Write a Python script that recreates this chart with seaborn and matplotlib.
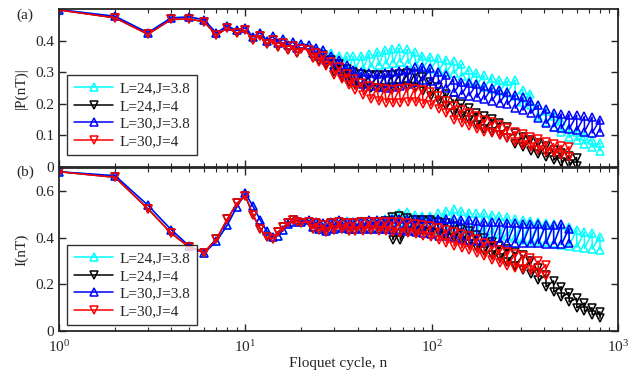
import matplotlib
matplotlib.use('Agg')
import matplotlib.pyplot as plt
import seaborn as sns

# n = 1..20 are single cycles; past that each node n gives the pair (n, n+1),
# the top and the bottom of the even/odd zigzag band
NODES = [22, 24, 26, 29, 32, 35, 38, 42, 46, 51, 56, 61, 67, 74, 81, 89, 98, 108,
         119, 131, 144, 158, 174, 191, 210, 231, 254, 280, 308, 339, 373, 410, 451,
         496, 546, 600, 660, 726, 800]

LABELS = ['L=24,J=3.8', 'L=24,J=4', 'L=30,J=3.8', 'L=30,J=4']
COLORS = ['#00ffff', 'black', '#0000ff', '#ff0000']
MARKERS = ['^', 'v', '^', 'v']

# ---- panel (a): |P(nT)| ----
p_early_38 = [0.498, 0.477, 0.425, 0.472, 0.475, 0.466, 0.424, 0.447, 0.432, 0.440,
              0.412, 0.425, 0.400, 0.413, 0.392, 0.405, 0.385, 0.396, 0.377, 0.390]
p_early_4 = [0.497, 0.472, 0.420, 0.467, 0.468, 0.460, 0.417, 0.440, 0.424, 0.432,
             0.403, 0.415, 0.390, 0.402, 0.380, 0.392, 0.370, 0.382, 0.362, 0.375]

p_hi_24_38 = [.385, .378, .370, .360, .352, .350, .350, .352, .358, .364, .370, .374, .376,
              .372, .364, .352, .348, .345, .340, .334, .325, .308, .298, .290, .283, .276,
              .272, .275, .245, .232, .196, .178, .162, .145, .125, .112, .098, .086, .075]
p_lo_24_38 = [.360, .350, .342, .325, .318, .312, .310, .310, .316, .322, .326, .330, .331,
              .328, .322, .314, .310, .305, .300, .296, .288, .272, .262, .252, .246, .240,
              .235, .225, .205, .195, .160, .142, .128, .110, .094, .084, .074, .063, .052]
p_hi_24_4 = [.370, .362, .355, .340, .325, .310, .300, .293, .290, .290, .290, .292, .295,
             .296, .294, .285, .268, .252, .232, .212, .200, .188, .172, .160, .152, .140,
             .128, .108, .096, .086, .075, .065, .055, .045, .036, .030]
p_lo_24_4 = [.345, .335, .325, .302, .285, .270, .260, .253, .250, .250, .250, .252, .254,
             .256, .254, .242, .226, .210, .192, .170, .160, .148, .132, .120, .112, .102,
             .092, .074, .064, .052, .040, .032, .022, .015, .008, .004]
p_hi_30_38 = [.385, .378, .370, .352, .338, .322, .308, .300, .296, .295, .296, .300, .303,
              .308, .315, .318, .312, .302, .290, .276, .270, .266, .262, .256, .250, .244,
              .238, .228, .220, .210, .195, .182, .170, .168, .166, .164, .160, .158, .150]
p_lo_30_38 = [.360, .350, .340, .318, .302, .286, .272, .262, .256, .252, .250, .252, .257,
              .263, .270, .275, .272, .262, .250, .236, .230, .226, .220, .214, .210, .204,
              .198, .186, .180, .170, .155, .138, .128, .122, .120, .116, .112, .108, .110]
p_hi_30_4 = [.370, .360, .352, .332, .315, .295, .280, .265, .255, .250, .247, .245, .248,
             .250, .248, .243, .236, .225, .210, .192, .180, .170, .160, .150, .142, .134,
             .125, .112, .105, .096, .088, .080, .074, .068, .064]
p_lo_30_4 = [.345, .333, .320, .292, .278, .260, .245, .228, .215, .208, .204, .202, .204,
             .206, .205, .200, .195, .185, .170, .150, .140, .130, .120, .112, .108, .100,
             .092, .078, .070, .062, .055, .048, .043, .038, .032]

# ---- panel (b): I(nT) ----
i_early_38 = [0.684, 0.667, 0.540, 0.435, 0.365, 0.335, 0.385, 0.455, 0.533, 0.592,
              0.535, 0.478, 0.430, 0.405, 0.410, 0.435, 0.460, 0.470, 0.475, 0.470]
i_early_4 = [0.684, 0.660, 0.525, 0.420, 0.360, 0.337, 0.395, 0.480, 0.548, 0.580,
             0.498, 0.440, 0.402, 0.397, 0.426, 0.445, 0.465, 0.475, 0.470, 0.465]

i_hi_24_38 = [.475, .468, .462, .470, .476, .472, .470, .472, .476, .478, .480, .488, .505,
              .510, .500, .495, .495, .505, .515, .522, .515, .508, .505, .505, .500, .495,
              .490, .482, .478, .472, .466, .462, .460, .456, .448, .435, .425, .420, .405]
i_lo_24_38 = [.445, .436, .430, .437, .442, .437, .437, .440, .440, .440, .440, .440, .440,
              .440, .436, .432, .430, .428, .430, .432, .430, .428, .426, .425, .420, .415,
              .408, .398, .392, .388, .385, .382, .378, .370, .366, .360, .355, .352, .348]
i_hi_24_4 = [.470, .462, .455, .465, .470, .465, .465, .468, .470, .470, .472, .490, .495,
             .485, .478, .478, .476, .470, .462, .452, .440, .428, .412, .398, .382, .366,
             .352, .338, .325, .300, .270, .240, .215, .190, .165, .140, .120, .100, .082]
i_lo_24_4 = [.440, .432, .425, .432, .436, .430, .430, .432, .435, .435, .435, .392, .390,
             .428, .430, .428, .426, .420, .410, .398, .385, .372, .357, .342, .328, .312,
             .298, .280, .262, .245, .218, .190, .168, .145, .125, .100, .085, .070, .055]
i_hi_30_38 = [.475, .468, .462, .470, .475, .470, .470, .470, .475, .476, .478, .480, .481,
              .482, .482, .482, .483, .482, .481, .480, .478, .476, .473, .470, .468, .466,
              .465, .462, .461, .460, .458, .456, .455, .460, .440]
i_lo_30_38 = [.445, .436, .430, .437, .442, .436, .437, .440, .440, .440, .438, .435, .432,
              .430, .426, .423, .418, .410, .406, .402, .396, .392, .388, .385, .383, .381,
              .380, .378, .377, .376, .376, .375, .374, .372, .378]
i_hi_30_4 = [.470, .462, .455, .465, .470, .465, .465, .468, .470, .469, .468, .468, .466,
             .464, .460, .456, .450, .443, .435, .425, .416, .408, .395, .380, .364, .350,
             .340, .330, .322, .312, .300, .285]
i_lo_30_4 = [.440, .432, .425, .432, .436, .430, .430, .430, .432, .431, .430, .425, .422,
             .420, .415, .410, .402, .390, .377, .365, .356, .348, .335, .320, .305, .292,
             .280, .272, .266, .260, .250, .238]

P_TICKS = [0, 0.1, 0.2, 0.3, 0.4]
P_TICKLABELS = ['0', '0.1', '0.2', '0.3', '0.4']
I_TICKS = [0, 0.2, 0.4, 0.6]
I_TICKLABELS = ['0', '0.2', '0.4', '0.6']


def build(early, hi, lo):
    n = list(range(1, len(early) + 1))
    y = list(early)
    for k in range(len(hi)):
        n += [NODES[k], NODES[k] + 1]
        y += [hi[k], lo[k]]
    return n, y


def draw_panel(ax, series):
    for (early, hi, lo), lab, c, m in zip(series, LABELS, COLORS, MARKERS):
        n, y = build(early, hi, lo)
        sns.lineplot(x=n, y=y, ax=ax, color=c, marker=m, markersize=6,
                     markerfacecolor='none', markeredgecolor=c, markeredgewidth=1.1,
                     linewidth=1.1, label=lab, sort=False)
    ax.set_xscale('log')
    ax.set_xlim(1, 1000)
    ax.tick_params(which='both', direction='in', top=True, right=True, labelsize=11)
    ax.tick_params(which='major', length=5, width=1)
    ax.tick_params(which='minor', length=3, width=0.8)
    ax.tick_params(axis='x', pad=6)
    for sp in ax.spines.values():
        sp.set_linewidth(1.3)
    leg = ax.legend(loc='upper left', frameon=True, fancybox=False, fontsize=11,
                    numpoints=1, handlelength=2.6, labelspacing=0.25,
                    borderpad=0.45, handletextpad=0.4, borderaxespad=0)
    leg.get_frame().set_edgecolor('black')
    leg.get_frame().set_linewidth(1.0)
    return leg


def main():
    sns.set_style('ticks')
    plt.rcParams['font.family'] = ['Liberation Serif', 'DejaVu Serif']
    plt.rcParams['mathtext.fontset'] = 'stix'
    plt.rcParams['font.size'] = 11

    fig = plt.figure(figsize=(6.41, 3.70), dpi=100)
    ax_a = fig.add_axes([59 / 641, 1 - 167 / 370, 559 / 641, 158 / 370])
    ax_b = fig.add_axes([59 / 641, 1 - 331 / 370, 559 / 641, 163 / 370])

    leg_a = draw_panel(ax_a, [(p_early_38, p_hi_24_38, p_lo_24_38),
                              (p_early_4, p_hi_24_4, p_lo_24_4),
                              (p_early_38, p_hi_30_38, p_lo_30_38),
                              (p_early_4, p_hi_30_4, p_lo_30_4)])
    leg_a.set_bbox_to_anchor((0.014, 0.582))
    ax_a.set_ylim(0, 0.5)
    ax_a.set_yticks(P_TICKS, P_TICKLABELS)
    ax_a.tick_params(labelbottom=False)
    ax_a.set_ylabel('|P(nT)|', fontsize=11)
    ax_a.yaxis.set_label_coords(-0.055, 0.5)

    leg_b = draw_panel(ax_b, [(i_early_38, i_hi_24_38, i_lo_24_38),
                              (i_early_4, i_hi_24_4, i_lo_24_4),
                              (i_early_38, i_hi_30_38, i_lo_30_38),
                              (i_early_4, i_hi_30_4, i_lo_30_4)])
    leg_b.set_bbox_to_anchor((0.014, 0.528))
    ax_b.set_ylim(0, 0.7)
    ax_b.set_yticks(I_TICKS, I_TICKLABELS)
    ax_b.set_ylabel('I(nT)', fontsize=11)
    ax_b.yaxis.set_label_coords(-0.055, 0.5)
    ax_b.set_xlabel('Floquet cycle, n', fontsize=11, labelpad=1)

    fig.text(25 / 641, 1 - 15 / 370, '(a)', ha='center', va='center', fontsize=11)
    fig.text(25 / 641, 1 - 172 / 370, '(b)', ha='center', va='center', fontsize=11)

    fig.savefig('out.png', dpi=100)


if __name__ == '__main__':
    main()
